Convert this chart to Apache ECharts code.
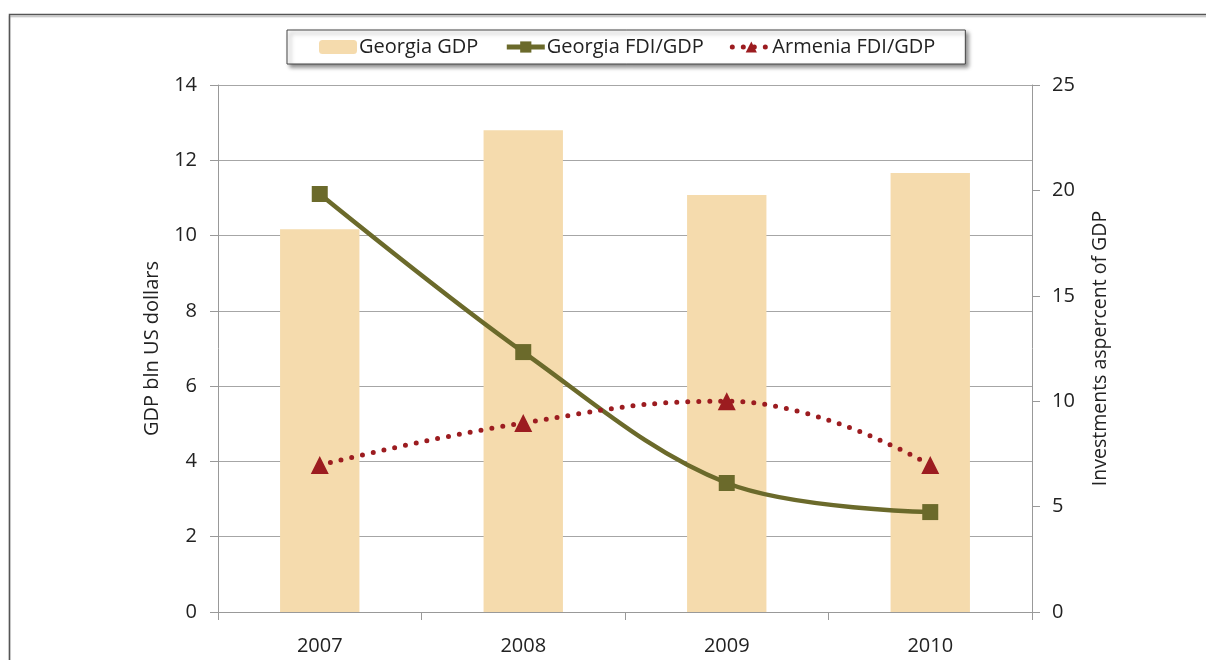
<!DOCTYPE html>
<html>
<head>
<meta charset="utf-8">
<script src="https://cdn.jsdelivr.net/npm/echarts@6/dist/echarts.min.js"></script>
<style>
    html, body { margin: 0; padding: 0; background: #fff; }
    #chart { width: 1206px; height: 660px; }
</style>
</head>
<body>
<div id="chart"></div>
<script>
    // data
    var years = ['2007', '2008', '2009', '2010'];
    var georgiaGdp = [10.17, 12.8, 11.08, 11.66];      // bln US dollars, left axis
    var georgiaFdi = [19.83, 12.33, 6.12, 4.74];       // % of GDP, right axis
    var armeniaFdi = [6.97, 8.97, 10.0, 6.97];         // % of GDP, right axis

    var font = 'Open Sans';
    var olive = '#6b6a2b', red = '#9c1c20', sand = '#f5dbad';
    var chart = echarts.init(document.getElementById('chart'));

    chart.setOption({
        animation: false,
        textStyle: { fontFamily: font },
        graphic: [{
            // outer frame of the figure
            type: 'rect',
            shape: { x: 9.5, y: 14.5, width: 1220, height: 700 },
            style: { fill: 'none', stroke: '#555', lineWidth: 1.5, shadowColor: 'rgba(0,0,0,0.25)', shadowOffsetY: 2, shadowBlur: 1 },
            silent: true
        }],
        legend: {
            left: 287,
            top: 30,
            padding: [7, 30, 7, 32],
            itemGap: 26,
            itemWidth: 38,
            itemHeight: 14,
            borderColor: '#444',
            borderWidth: 1,
            backgroundColor: '#fff',
            shadowColor: 'rgba(0,0,0,0.45)',
            shadowBlur: 4,
            shadowOffsetX: 3,
            shadowOffsetY: 3,
            textStyle: { fontSize: 20, color: '#222', fontFamily: font, padding: [0, 0, 0, -3] },
            data: [
                { name: 'Georgia GDP' },
                { name: 'Georgia FDI/GDP', lineStyle: { width: 5 } },
                { name: 'Armenia FDI/GDP', lineStyle: { width: 5 } }
            ]
        },
        grid: {
            left: 218,
            right: 174,
            top: 85,
            bottom: 48,
            containLabel: false
        },
        xAxis: {
            type: 'category',
            data: years,
            axisLine: { lineStyle: { color: '#999', width: 1 } },
            axisTick: { show: true, length: 8, alignWithLabel: false, lineStyle: { color: '#999' } },
            axisLabel: { fontSize: 20, color: '#222', margin: 24 }
        },
        yAxis: [{
            type: 'value',
            min: 0,
            max: 14,
            interval: 2,
            name: 'GDP bln US dollars',
            nameLocation: 'middle',
            nameRotate: 90,
            nameGap: 56,
            nameTextStyle: { fontSize: 20, color: '#222' },
            axisLine: { show: true, lineStyle: { color: '#999' } },
            axisTick: { show: true, length: 8, inside: false, lineStyle: { color: '#999' } },
            axisLabel: { fontSize: 20, color: '#222', margin: 21 },
            splitLine: { show: true, lineStyle: { color: '#a6a6a6', width: 1 } }
        }, {
            type: 'value',
            min: 0,
            max: 25,
            interval: 5,
            name: 'Investments aspercent of GDP',
            nameLocation: 'middle',
            nameRotate: 90,
            nameGap: 58,
            nameTextStyle: { fontSize: 19.5, color: '#222' },
            axisLine: { show: true, lineStyle: { color: '#999' } },
            axisTick: { show: true, length: 8, lineStyle: { color: '#999' } },
            axisLabel: { fontSize: 20, color: '#222', margin: 20 },
            splitLine: { show: false }
        }],
        series: [{
            name: 'Georgia GDP',
            type: 'bar',
            data: georgiaGdp,
            barWidth: '39%',
            itemStyle: { color: sand }
        }, {
            name: 'Georgia FDI/GDP',
            type: 'line',
            yAxisIndex: 1,
            data: georgiaFdi,
            smooth: 0.35,
            symbol: 'rect',
            symbolSize: 16,
            lineStyle: { color: olive, width: 4.5 },
            itemStyle: { color: olive }
        }, {
            name: 'Armenia FDI/GDP',
            type: 'line',
            yAxisIndex: 1,
            data: armeniaFdi,
            smooth: 0.45,
            symbol: 'triangle',
            symbolSize: 18,
            lineStyle: { color: red, width: 5, type: [0, 11], cap: 'round' },
            itemStyle: { color: red }
        }]
    });
</script>
</body>
</html>
